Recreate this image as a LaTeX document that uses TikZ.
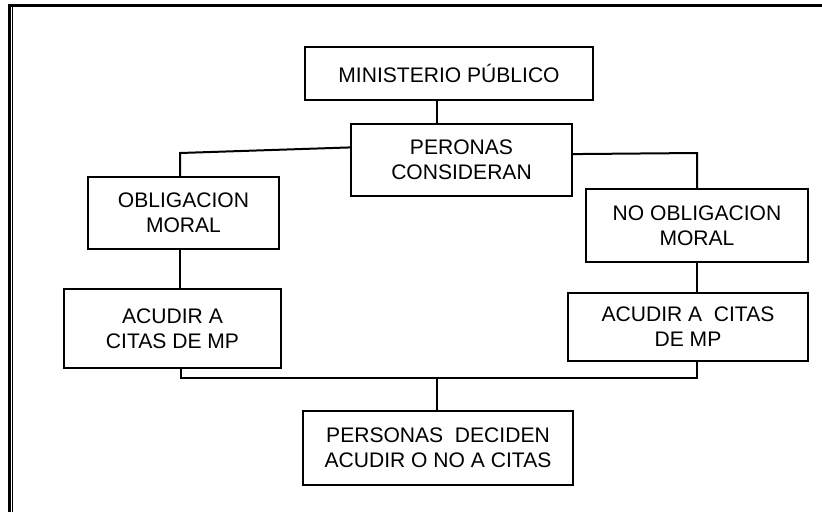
\documentclass[tikz,border=0pt]{standalone}
\usepackage{fontspec}
\setmainfont{Liberation Sans}
\usetikzlibrary{calc}
\tikzset{
  box/.style={draw=black, line width=1.5pt, fill=white, inner sep=0pt, align=center,
    font=\fontsize{15.8}{18.75}\selectfont, anchor=center},
  conn/.style={draw=black, line width=1.5pt}
}
\begin{document}
\begin{tikzpicture}[x=0.75pt, y=-0.75pt]
\useasboundingbox (0,0) rectangle (822,512);
% page border
\fill[black] (8,4) rectangle (822,7.3);
\fill[black] (8,4) rectangle (11,512);
\fill[black] (12,7.3) rectangle (13.2,512);
% nodes
\node[box, minimum width=216pt, minimum height=39.75pt] (MIN) at (449,73.5) {MINISTERIO PÚBLICO};
\node[box, minimum width=165.75pt, minimum height=54pt] (PER) at (461.5,160) {PERONAS\\CONSIDERAN};
\node[box, minimum width=143.25pt, minimum height=54pt] (OBL) at (183.5,213) {OBLIGACION\\MORAL};
\node[box, minimum width=166.5pt, minimum height=54.75pt] (NOOBL) at (697,225.5) {NO OBLIGACION\\MORAL};
\node[box, minimum width=162.75pt, minimum height=59.25pt] (ACL) at (172.5,328.5) {ACUDIR A\\CITAS DE MP};
\node[box, minimum width=180pt, minimum height=51pt] (ACR) at (688,327) {ACUDIR A\ \ CITAS\\DE MP};
\node[box, minimum width=202.5pt, minimum height=55.5pt] (PD) at (438,448) {PERSONAS\ \ DECIDEN\\ACUDIR O NO A CITAS};
% junction coordinates
\coordinate (jL) at (180,153);
\coordinate (jR) at (697,153);
\coordinate (bL) at (181,378);
\coordinate (bR) at (697,378);
\coordinate (bM) at (437,378);
% connectors
\draw[conn] (bM |- MIN.south) -- (bM |- PER.north);
\draw[conn] ($(PER.north west)!0.33!(PER.south west)$) -- (jL) -- (jL |- OBL.north);
\draw[conn] ($(PER.north east)!0.42!(PER.south east)$) -- (jR) -- (jR |- NOOBL.north);
\draw[conn] (jL |- OBL.south) -- (jL |- ACL.north);
\draw[conn] (jR |- NOOBL.south) -- (jR |- ACR.north);
\draw[conn] (bL |- ACL.south) -- (bL) -- (bR) -- (bR |- ACR.south);
\draw[conn] (bM) -- (bM |- PD.north);
\end{tikzpicture}
\end{document}
